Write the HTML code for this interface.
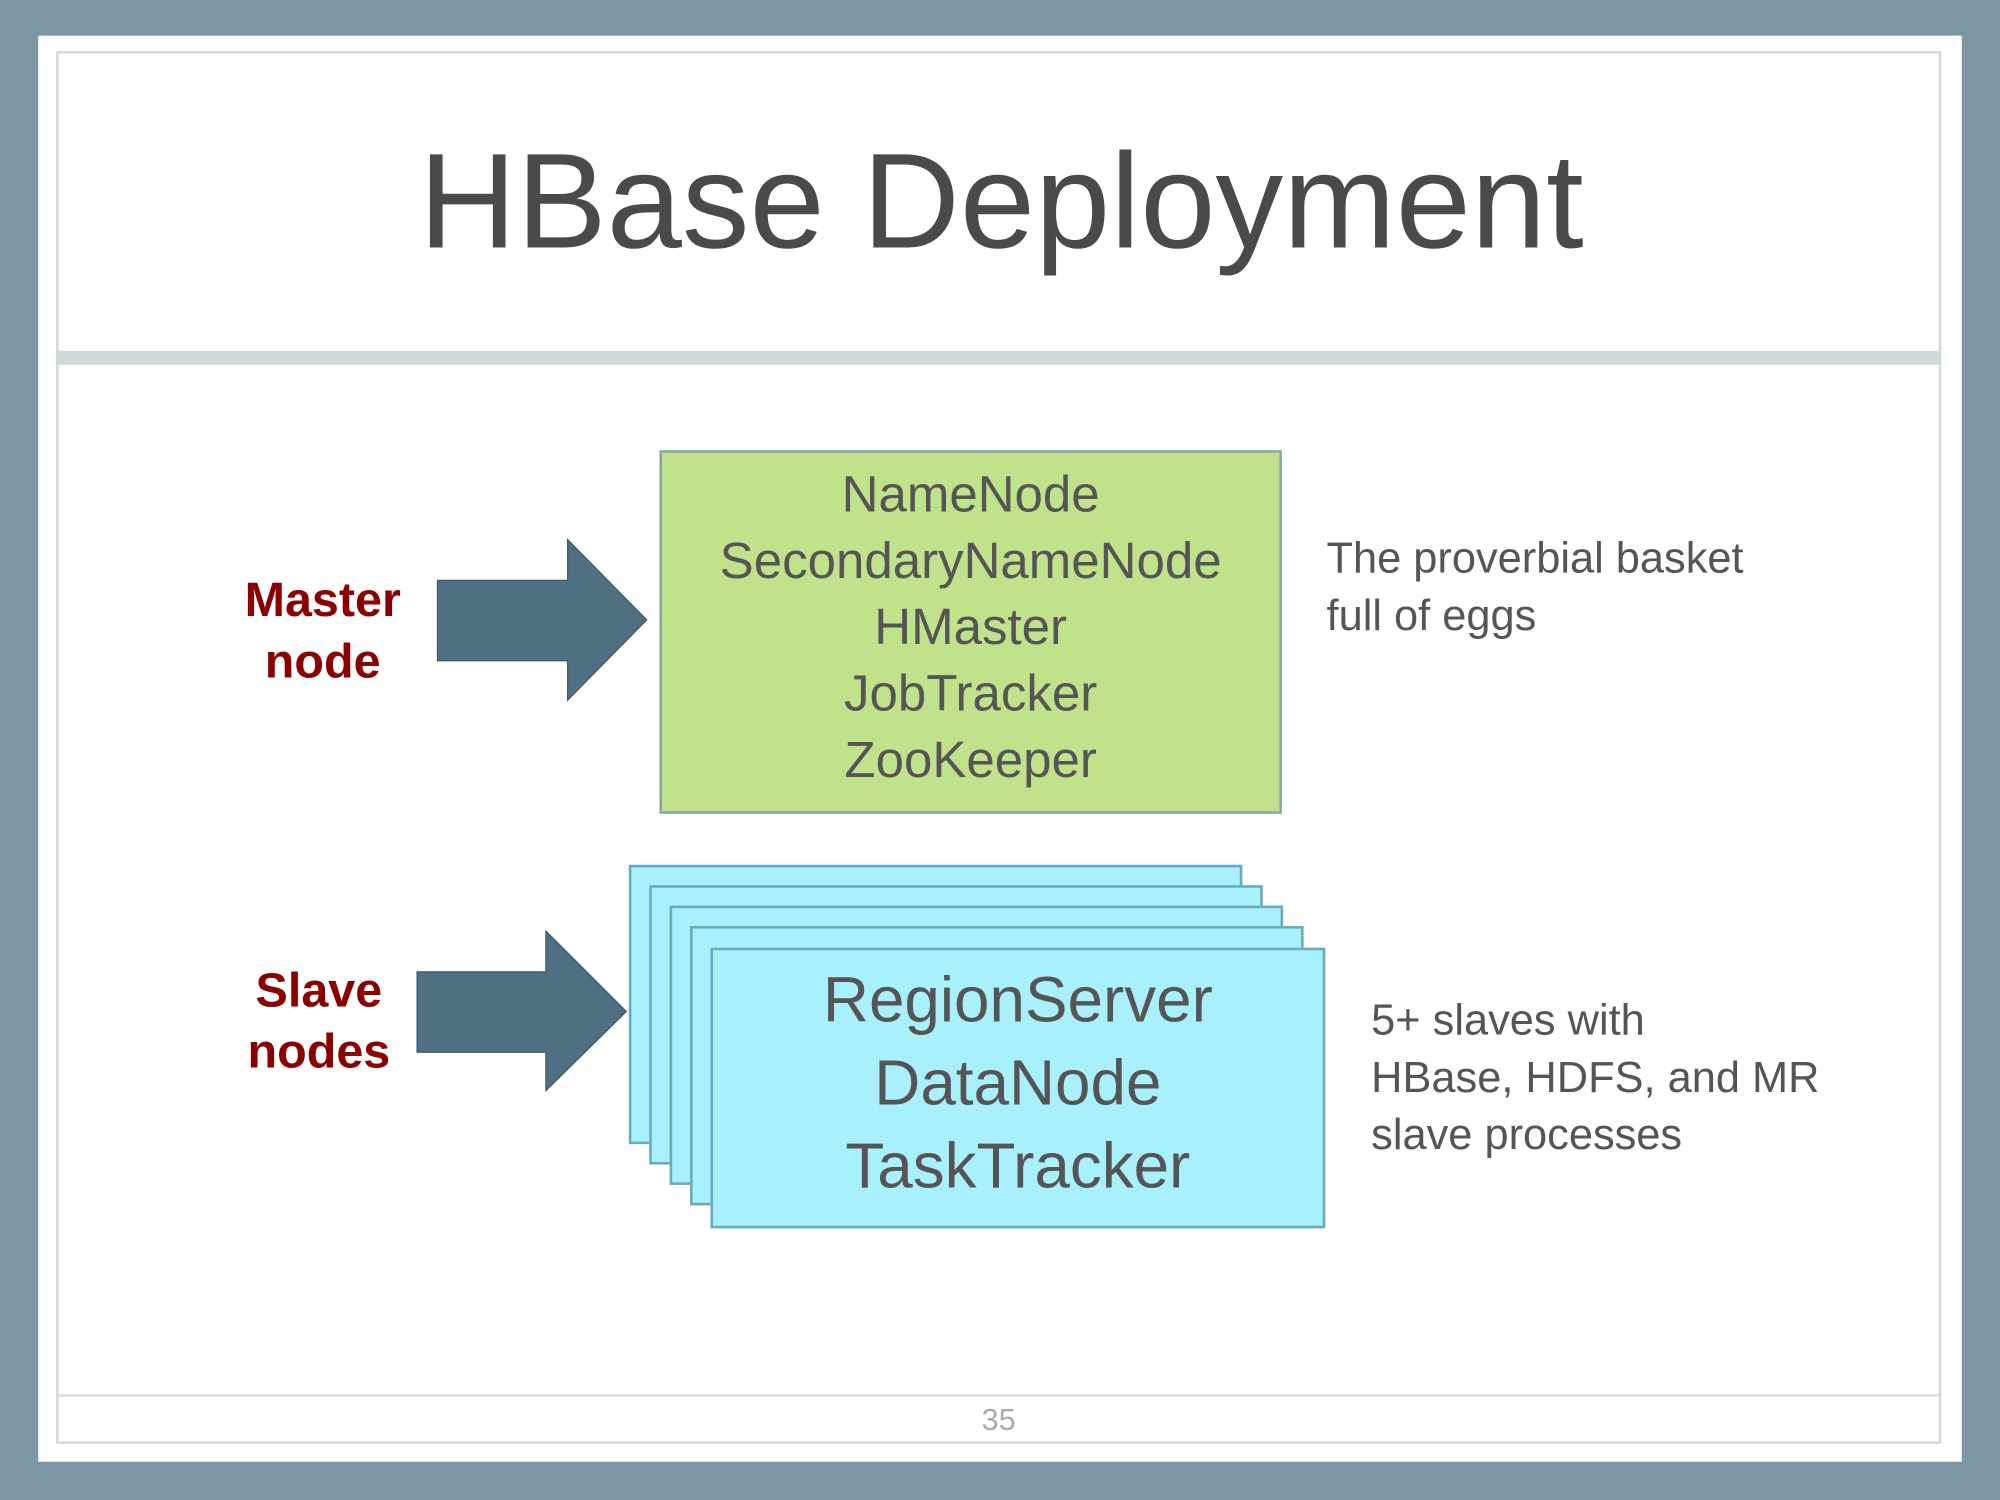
<!DOCTYPE html>
<html><head><meta charset="utf-8"><style>
html,body{margin:0;padding:0;width:2000px;height:1500px;overflow:hidden;background:#7d96a4;}
#s{position:absolute;left:0;top:0;width:1568px;height:1176px;transform:scale(1.27551);transform-origin:0 0;font-family:"Liberation Sans",sans-serif;}
.a{position:absolute;}
.t{position:absolute;white-space:nowrap;}
</style></head><body><div id="s">
<div class="a" style="left:30px;top:28px;width:1508px;height:1118px;background:#fff;"></div>
<div class="a" style="left:44px;top:40px;width:1478px;height:1092px;border:2px solid #d8d8d8;box-sizing:border-box;"></div>
<div class="t" style="left:0;width:1570px;text-align:center;top:98px;font-size:106px;color:#4a4a4a;line-height:120px;">HBase Deployment</div>
<div class="a" style="left:44px;top:275px;width:1478px;height:11px;background:#cfd8da;"></div>
<div class="a" style="left:44px;top:1093px;width:1478px;height:2px;background:#ddd;"></div>
<div class="t" style="left:733px;width:100px;text-align:center;top:1100px;font-size:24px;color:#aaa;">35</div>

<div class="a" style="left:517px;top:353px;width:488px;height:285px;background:#c0e28a;border:2px solid #8aa8a8;box-sizing:border-box;"></div>
<div class="t" style="left:517px;width:488px;text-align:center;top:362px;font-size:40px;line-height:52px;color:#555;">NameNode<br>SecondaryNameNode<br>HMaster<br>JobTracker<br>ZooKeeper</div>

<div class="a" style="left:493px;top:678px;width:481px;height:219px;background:#a8f0fc;border:2px solid #6aaabb;box-sizing:border-box;"></div>
<div class="a" style="left:509px;top:694px;width:481px;height:219px;background:#a8f0fc;border:2px solid #6aaabb;box-sizing:border-box;"></div>
<div class="a" style="left:525px;top:710px;width:481px;height:219px;background:#a8f0fc;border:2px solid #6aaabb;box-sizing:border-box;"></div>
<div class="a" style="left:541px;top:726px;width:481px;height:219px;background:#a8f0fc;border:2px solid #6aaabb;box-sizing:border-box;"></div>
<div class="a" style="left:557px;top:743px;width:482px;height:220px;background:#a8f0fc;border:2px solid #6aaabb;box-sizing:border-box;"></div>
<div class="t" style="left:557px;width:482px;text-align:center;top:752px;font-size:50px;line-height:65px;color:#555;">RegionServer<br>DataNode<br>TaskTracker</div>

<div class="t" style="left:153px;width:200px;text-align:center;top:447px;font-size:38px;line-height:48px;font-weight:bold;color:#8b0000;">Master<br>node</div>
<div class="t" style="left:150px;width:200px;text-align:center;top:753px;font-size:38px;line-height:48px;font-weight:bold;color:#8b0000;">Slave<br>nodes</div>

<svg class="a" style="left:0;top:0" width="1568" height="1176">
<polygon points="343,455 445,455 445,423 507,486 445,549 445,518 343,518" fill="#4f7082" stroke="#3c5a6a" stroke-width="1"/>
<polygon points="327,762 428,762 428,730 491,793 428,855 428,825 327,825" fill="#4f7082" stroke="#3c5a6a" stroke-width="1"/>
</svg>

<div class="t" style="left:1040px;top:416px;font-size:34px;line-height:45px;color:#555;">The proverbial basket<br>full of eggs</div>
<div class="t" style="left:1075px;top:778px;font-size:34px;line-height:45px;color:#555;">5+ slaves with<br>HBase, HDFS, and MR<br>slave processes</div>
</div></body></html>
